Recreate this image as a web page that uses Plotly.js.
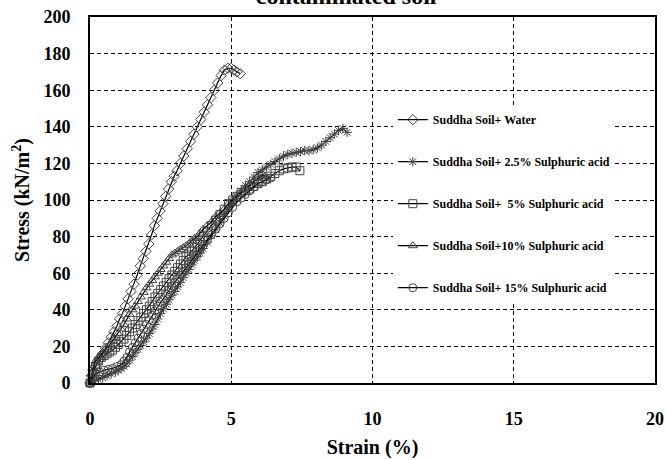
<!DOCTYPE html>
<html>
<head>
<meta charset="utf-8">
<script src="https://cdn.plot.ly/plotly-3.0.1.min.js"></script>
<style>html,body{margin:0;padding:0;background:#fff;}#chart{width:667px;height:460px;}</style>
</head>
<body>
<div id="chart"></div>
<script>
// Series names (legend labels)
const seriesNames = [
  "Suddha Soil+ Water",
  "Suddha Soil+ 2.5% Sulphuric acid",
  "Suddha Soil+\u00a0 5% Sulphuric acid",
  "Suddha Soil+10% Sulphuric acid",
  "Suddha Soil+ 15% Sulphuric acid"
];

// Suddha Soil + Water (diamonds)
const waterStrain = [0,0.05,0.1,0.18,0.27,0.35,0.45,0.55,0.65,0.75,0.85,0.95,1.05,1.15,1.25,1.35,1.45,1.56,1.67,1.78,1.88,1.98,2.08,2.18,2.28,2.38,2.48,2.58,2.68,2.78,2.88,2.98,3.08,3.2,3.32,3.44,3.56,3.68,3.8,3.92,4.04,4.16,4.28,4.4,4.52,4.64,4.76,4.88,5.0,5.1,5.2,5.32];
const waterStress = [0,4,7,9,11,13,16,19,22,25,28,31,35,38,42,46,50,54,59,64,68,72,76,81,86,90,94,98,102,106,110,113,116,120,124,128,132,136,140,144,148,152,156,160,164,168,171,172,172,171,170,169];

// Suddha Soil + 2.5% Sulphuric acid (asterisks)
const acid25Strain = [0,0.15,0.3,0.45,0.6,0.75,0.9,1.0,1.1,1.2,1.3,1.4,1.5,1.6,1.7,1.8,1.9,2.0,2.1,2.2,2.3,2.4,2.5,2.6,2.7,2.8,2.9,3.0,3.1,3.2,3.3,3.4,3.5,3.6,3.7,3.8,3.9,4.0,4.15,4.3,4.45,4.6,4.75,4.9,5.05,5.2,5.35,5.5,5.65,5.8,5.95,6.1,6.25,6.4,6.55,6.7,6.85,7.0,7.15,7.3,7.45,7.6,7.75,7.9,8.05,8.2,8.35,8.5,8.65,8.8,8.95,9.1];
const acid25Stress = [0,1,2,3,4,5,6,7,8,9,10.5,12.5,14.5,16.5,18.5,20.5,22.5,24.5,27,29.5,32,35,38,40.5,43,45.5,48,50,52.5,55,57.5,60,62,64.5,67,69,71,73.5,77,80.5,84,87.5,91,95,99,102,105,108,110,112.5,115,116.5,118,119.5,121,122.5,124,125,125.5,126,126.5,127,127,127.5,128.5,130,132,134,136,138,139,137];

// Suddha Soil + 5% Sulphuric acid (squares)
const acid5Strain = [0,0.1,0.2,0.3,0.4,0.5,0.6,0.7,0.8,0.9,1.0,1.1,1.2,1.3,1.4,1.5,1.6,1.7,1.8,1.9,2.0,2.1,2.2,2.3,2.4,2.5,2.6,2.7,2.8,2.9,3.0,3.1,3.2,3.3,3.4,3.5,3.6,3.7,3.8,3.9,4.0,4.15,4.3,4.45,4.6,4.75,4.9,5.05,5.2,5.35,5.5,5.65,5.8,5.95,6.1,6.25,6.4,6.55,6.7,6.85,7.0,7.15,7.3,7.43];
const acid5Stress = [0,5,9,12,14,15,16,17,18,19.5,21,22.5,24,26,28,30,32,34,36,38,40,42,44.5,47,49,51,53,55,57,59,61,63,65,67,69,70,72,74,76,78,80,83,86,89,92,95,98,100,102,104,105,106,107.5,109,110,111.5,113,114.5,116,117,117.5,118,118,116];

// Suddha Soil + 10% Sulphuric acid (triangles)
const acid10Strain = [0,0.05,0.1,0.2,0.3,0.4,0.5,0.6,0.7,0.8,0.9,1.0,1.1,1.2,1.3,1.4,1.5,1.6,1.7,1.8,1.9,2.0,2.1,2.2,2.3,2.4,2.5,2.6,2.7,2.8,2.9,3.0,3.1,3.2,3.3,3.4,3.5,3.6,3.7,3.8,3.9,4.0,4.15,4.3,4.45,4.6,4.75,4.9,5.05,5.2,5.35,5.5,5.65,5.8,5.95,6.1,6.2];
const acid10Stress = [0,5,8,12,14,16,18,19.5,21,23,25,27,29.5,32,35,37.5,40,42,44.5,47,49.5,52,54,56,58,60,62,64,66,68,70,71,72,73,74,75,76,78,79,80,82,84,86,88,91,93,95,98,100,102,104,106,108,110,112,114,113];

// Suddha Soil + 15% Sulphuric acid (circles)
const acid15Strain = [0,0.1,0.2,0.35,0.5,0.65,0.8,0.95,1.1,1.2,1.3,1.4,1.5,1.6,1.7,1.8,1.9,2.0,2.1,2.2,2.3,2.4,2.5,2.6,2.7,2.8,2.9,3.0,3.1,3.2,3.3,3.4,3.5,3.6,3.7,3.8,3.9,4.0,4.15,4.3,4.45,4.6,4.75,4.9,5.05,5.2,5.35,5.5,5.65,5.8,5.95,6.1,6.25,6.4];
const acid15Stress = [0,3,5,6,7,7.5,8,9,10,12,14,17,19.5,22,24.5,27,29.5,32,34.5,37,39.5,42,44,46,48.5,51,53,55,57,59,61,63,65,67,69,71,73,75,78,81,84,87,90,93,96,99,101,103,105,107,109,110,111,112];

// Axis ticks
const xTicks = [0,5,10,15,20];
const yTicks = [0,20,40,60,80,100,120,140,160,180,200];

const xs = [waterStrain, acid25Strain, acid5Strain, acid10Strain, acid15Strain];
const ys = [waterStress, acid25Stress, acid5Stress, acid10Stress, acid15Stress];
const symbols = ["diamond-open","asterisk-open","square-open","triangle-up-open","circle-open"];

const FONT = "Liberation Serif, Times New Roman, serif";

const traces = xs.map((x, i) => ({
  x: x, y: ys[i], name: seriesNames[i],
  type: "scatter", mode: "lines+markers",
  legendgroup: "g" + i,
  cliponaxis: false,
  line: {color: "#000", width: 1.2},
  marker: {symbol: symbols[i], size: 8, color: "#444", line: {color: "#444", width: 1}}
}));

const layout = {
  width: 667, height: 460,
  paper_bgcolor: "#fff", plot_bgcolor: "#fff",
  margin: {l: 90, r: 12, t: 17, b: 77},
  title: {
    text: "contaminated soil",
    font: {family: FONT, size: 24, weight: "bold", color: "#000"},
    x: 0.519, xref: "container", xanchor: "center",
    y: 0.992, yref: "container", yanchor: "bottom"
  },
  showlegend: true,
  legend: {
    x: 0.536, y: 0.759, xanchor: "left", yanchor: "top",
    bgcolor: "#fff", borderwidth: 0,
    traceorder: "grouped", tracegroupgap: 23,
    font: {family: FONT, size: 12, weight: "bold", color: "#000"}
  },
  xaxis: {
    range: [0, 20], tickvals: xTicks, ticktext: xTicks.map(String),
    showline: true, mirror: true, linecolor: "#000", linewidth: 2,
    showgrid: true, gridcolor: "#000", gridwidth: 1, griddash: "4px,3px",
    zeroline: false, ticks: "", ticklabelstandoff: 18,
    tickfont: {family: FONT, size: 18, weight: "bold", color: "#000"},
    title: {text: "Strain (%)", standoff: 12,
      font: {family: FONT, size: 20, weight: "bold", color: "#000"}}
  },
  yaxis: {
    range: [0, 200], tickvals: yTicks, ticktext: yTicks.map(String),
    showline: true, mirror: true, linecolor: "#000", linewidth: 2,
    showgrid: true, gridcolor: "#000", gridwidth: 1, griddash: "4px,3px",
    zeroline: false, ticks: "", ticklabelstandoff: 14,
    tickfont: {family: FONT, size: 18, weight: "bold", color: "#000"},
    title: {text: "Stress (kN/m<sup>2</sup>)", standoff: 8,
      font: {family: FONT, size: 20, weight: "bold", color: "#000"}}
  }
};

Plotly.newPlot("chart", traces, layout, {displayModeBar: false, staticPlot: true});
</script>
</body>
</html>
